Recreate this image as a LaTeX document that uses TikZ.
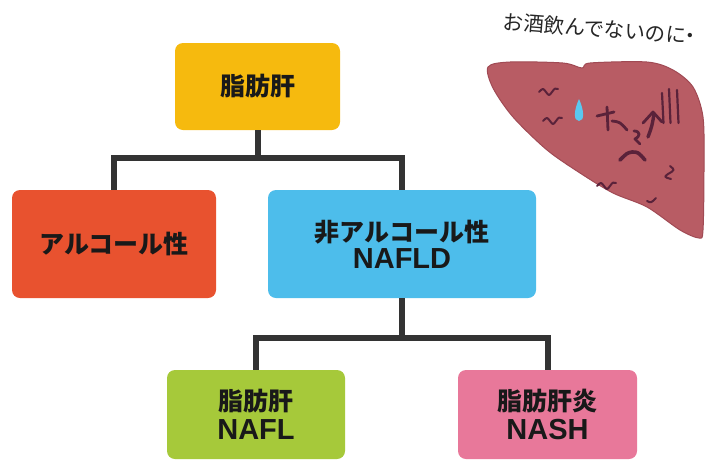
\documentclass[tikz,border=0pt]{standalone}
\usepackage{fontspec}
\setmainfont{Noto Sans CJK JP}
\newfontfamily\latinfont{Liberation Sans}
\usetikzlibrary{positioning}
\definecolor{fatyellow}{RGB}{246,186,14}
\definecolor{alcred}{RGB}{232,82,47}
\definecolor{nafldblue}{RGB}{77,189,235}
\definecolor{naflgreen}{RGB}{166,201,58}
\definecolor{nashpink}{RGB}{232,120,154}
\definecolor{linkgray}{RGB}{51,51,51}
\definecolor{liverbody}{RGB}{184,92,100}
\definecolor{liveredge}{RGB}{160,74,84}
\definecolor{liverface}{RGB}{90,34,58}
\definecolor{tearblue}{RGB}{90,200,240}
\tikzset{
  catbox/.style = {rounded corners=8pt, inner sep=0pt, align=center,
                   font=\bfseries\fontsize{25}{29}\selectfont, text=black!90},
  link/.style   = {draw=linkgray, line width=6pt},
  face/.style   = {draw=liverface, line width=2.8pt, line cap=round, line join=round},
}
\newcommand{\abbr}[1]{{\latinfont\bfseries\fontsize{29}{29}\selectfont #1}}

\begin{document}
\begin{tikzpicture}[x=1pt, y=-1pt]
  \useasboundingbox (0,0) rectangle (712,461);
  % category boxes
  \foreach \name/\x/\y/\w/\h/\col/\txt in {
      fat/257.5/86.5/165/87/fatyellow/{脂肪肝},
      alc/114/244/204/108/alcred/{アルコール性},
      nafld/402/244/268/108/nafldblue/{非アルコール性\\[-2pt]\abbr{NAFLD}},
      nafl/256/414.5/178/89/naflgreen/{脂肪肝\\[0pt]\abbr{NAFL}},
      nash/547.5/414.5/179/89/nashpink/{脂肪肝炎\\[0pt]\abbr{NASH}}} {
    \node[catbox, fill=\col, minimum width=\w pt, minimum height=\h pt] (\name) at (\x,\y) {\txt};
  }
  % tree links
  \coordinate (split1) at (257.5,158);
  \coordinate (split2) at (402,338);
  \draw[link] (fat.south) -- (split1);
  \draw[link] (alc.north) |- (split1) -| (nafld.north);
  \draw[link] (nafld.south) -- (split2);
  \draw[link] (nafl.north) |- (split2) -| (nash.north);

  % liver
  \filldraw[fill=liverbody, draw=liveredge, line width=1pt]
    plot[smooth cycle, tension=0.5] coordinates {
      (488,67) (510,62) (563,63) (582,68) (590,63) (647,62) (673,70) (693,87)
      (703,117) (704,167) (703,230) (699,238) (680,230) (647,207) (613,193)
      (580,173) (547,150) (513,117) (493,88)};
  % wrinkles
  \foreach \x/\y in {539/92, 543/121, 597/186} {
    \draw[face, line width=2pt] (\x,\y) .. controls (\x+4,\y-4) .. (\x+7,\y)
      .. controls (\x+10,\y+4) .. (\x+13,\y) .. controls (\x+16,\y-4) .. (\x+19,\y-3);
  }
  \draw[face, line width=2pt] (670,166) .. controls (675,170) .. (668,174) .. controls (664,177) .. (671,179);
  \draw[face, line width=2pt] (647,201) .. controls (651,203) .. (656,198);
  % tear
  \fill[tearblue] (579,99) .. controls (584,110) and (585,121) .. (579,121)
    .. controls (573,121) and (574,110) .. (579,99);
  % eyes
  \draw[face] (597,116) -- (614,112);
  \draw[face] (607,107) .. controls (607,118) .. (608,130);
  \draw[face] (612,121) .. controls (620,122) .. (627,130);
  \draw[face] (643,123) -- (653,112) -- (662,122);
  \draw[face, line width=3.4pt] (654,114) .. controls (652,126) .. (648,137);
  % nose and mouth
  \draw[face] (634,131) .. controls (641,131) and (640,137) .. (635,139)
    .. controls (638,141) .. (640,144);
  \draw[face, line width=3.6pt] (620,160) .. controls (627,153) .. (632,152) .. controls (638,152) .. (645,160);
  % frown lines
  \foreach \x/\t in {662/93, 669/89, 677/90} {
    \draw[face, line width=2.2pt] (\x,\t) -- (\x+1.5,123);
  }
  % remark
  \node[rotate=-4.5, font=\fontsize{20.5}{20.5}\selectfont, text=black!85] (remark) at (602,29) {お酒飲んでないのに\kern-6pt・};
\end{tikzpicture}
\end{document}
